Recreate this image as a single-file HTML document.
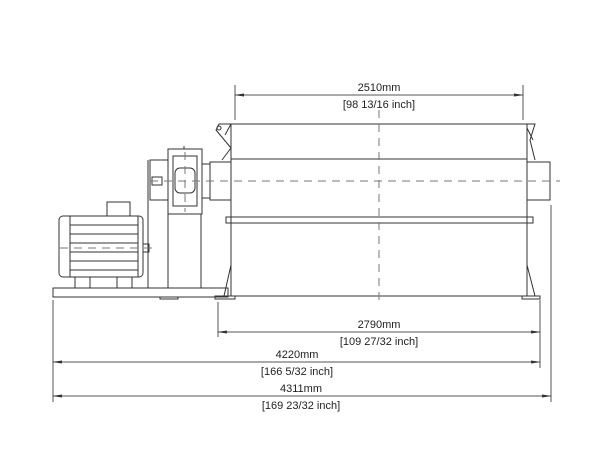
<!DOCTYPE html>
<html><head><meta charset="utf-8"><style>
html,body{margin:0;padding:0;background:#fff;width:603px;height:465px;overflow:hidden}
svg{display:block}
text{font-family:"Liberation Sans",sans-serif;font-size:11px;fill:#222;text-anchor:middle}
</style></head><body>
<svg width="603" height="465" viewBox="0 0 603 465" xmlns="http://www.w3.org/2000/svg">
<defs>
<marker id="a" markerWidth="10" markerHeight="6" refX="9" refY="3" orient="auto-start-reverse" markerUnits="userSpaceOnUse">
<path d="M0,1.5 L10,3 L0,4.5 Z" fill="#333"/></marker>
</defs>
<g stroke="#333" stroke-width="1" fill="none">
<!-- drum -->
<rect x="231" y="124" width="296" height="172"/>
<line x1="231" y1="159" x2="527" y2="159"/>
<rect x="226" y="217" width="307" height="6"/>
<rect x="210" y="162" width="21" height="38"/>
<rect x="527" y="162" width="23" height="38"/>
<!-- end brackets -->
<path d="M231,124 L219,124 L216,130 L231,148 M225,135 L231,124 M231,148 L222,160"/>
<circle cx="219" cy="128" r="2"/>
<path d="M527,124 L535,124 L530,140 L535,160 M527,128 L533,140"/>
<path d="M231,265 L224,296 M527,265 L535,296"/>
<path d="M215,296 L235,296 L235,299 L215,299 Z M522,296 L540,296 L540,299 L522,299 Z"/>
<!-- gearbox -->
<rect x="168" y="149" width="34" height="65"/>
<rect x="173" y="156" width="24" height="50"/>
<rect x="175" y="168" width="20" height="25" rx="5"/>
<rect x="202" y="164" width="8" height="34"/>
<rect x="150" y="160" width="18" height="40"/>
<rect x="152" y="177" width="10" height="8"/>
<line x1="184" y1="146" x2="184" y2="149"/>
<!-- column -->
<line x1="148" y1="160" x2="148" y2="288"/>
<line x1="168" y1="214" x2="168" y2="288"/>
<line x1="201" y1="214" x2="201" y2="288"/>
<!-- motor -->
<rect x="59" y="216" width="84" height="61" rx="4"/>
<line x1="70" y1="216" x2="70" y2="277"/>
<rect x="107" y="202" width="23" height="14"/>
<path d="M70,225 H138 M70,234 H138 M70,243 H138 M70,252 H138 M70,261 H138 M70,270 H138"/>
<line x1="138" y1="216" x2="138" y2="277"/>
<rect x="143" y="244" width="6" height="8"/>
<rect x="75" y="277" width="15" height="11"/>
<rect x="117" y="277" width="15" height="11"/>
<!-- base -->
<rect x="53" y="288" width="175" height="9"/>
<rect x="160" y="297" width="18" height="2"/>
</g>
<!-- centerlines -->
<g stroke="#777" stroke-width="1" stroke-dasharray="8,6" fill="none">
<line x1="150" y1="181" x2="560" y2="181"/>
<line x1="379" y1="110" x2="379" y2="305"/>
<line x1="60" y1="248" x2="152" y2="248"/>
<line x1="185" y1="152" x2="185" y2="212"/>
</g>
<!-- dimensions -->
<g stroke="#555" stroke-width="1" fill="none">
<line x1="235" y1="85" x2="235" y2="120"/>
<line x1="523" y1="85" x2="523" y2="120"/>
<line x1="53" y1="300" x2="53" y2="402"/>
<line x1="218" y1="302" x2="218" y2="337"/>
<line x1="540" y1="300" x2="540" y2="368"/>
<line x1="551" y1="205" x2="551" y2="402"/>
<line x1="235" y1="95" x2="523" y2="95" marker-start="url(#a)" marker-end="url(#a)"/>
<line x1="218" y1="332" x2="540" y2="332" marker-start="url(#a)" marker-end="url(#a)"/>
<line x1="53" y1="362" x2="540" y2="362" marker-start="url(#a)" marker-end="url(#a)"/>
<line x1="53" y1="396" x2="551" y2="396" marker-start="url(#a)" marker-end="url(#a)"/>
</g>
<text x="379" y="91">2510mm</text>
<text x="379" y="108">[98 13/16 inch]</text>
<text x="379" y="328">2790mm</text>
<text x="379" y="345">[109 27/32 inch]</text>
<text x="297" y="358">4220mm</text>
<text x="297" y="375">[166 5/32 inch]</text>
<text x="301" y="392">4311mm</text>
<text x="301" y="409">[169 23/32 inch]</text>
</svg>
</body></html>
